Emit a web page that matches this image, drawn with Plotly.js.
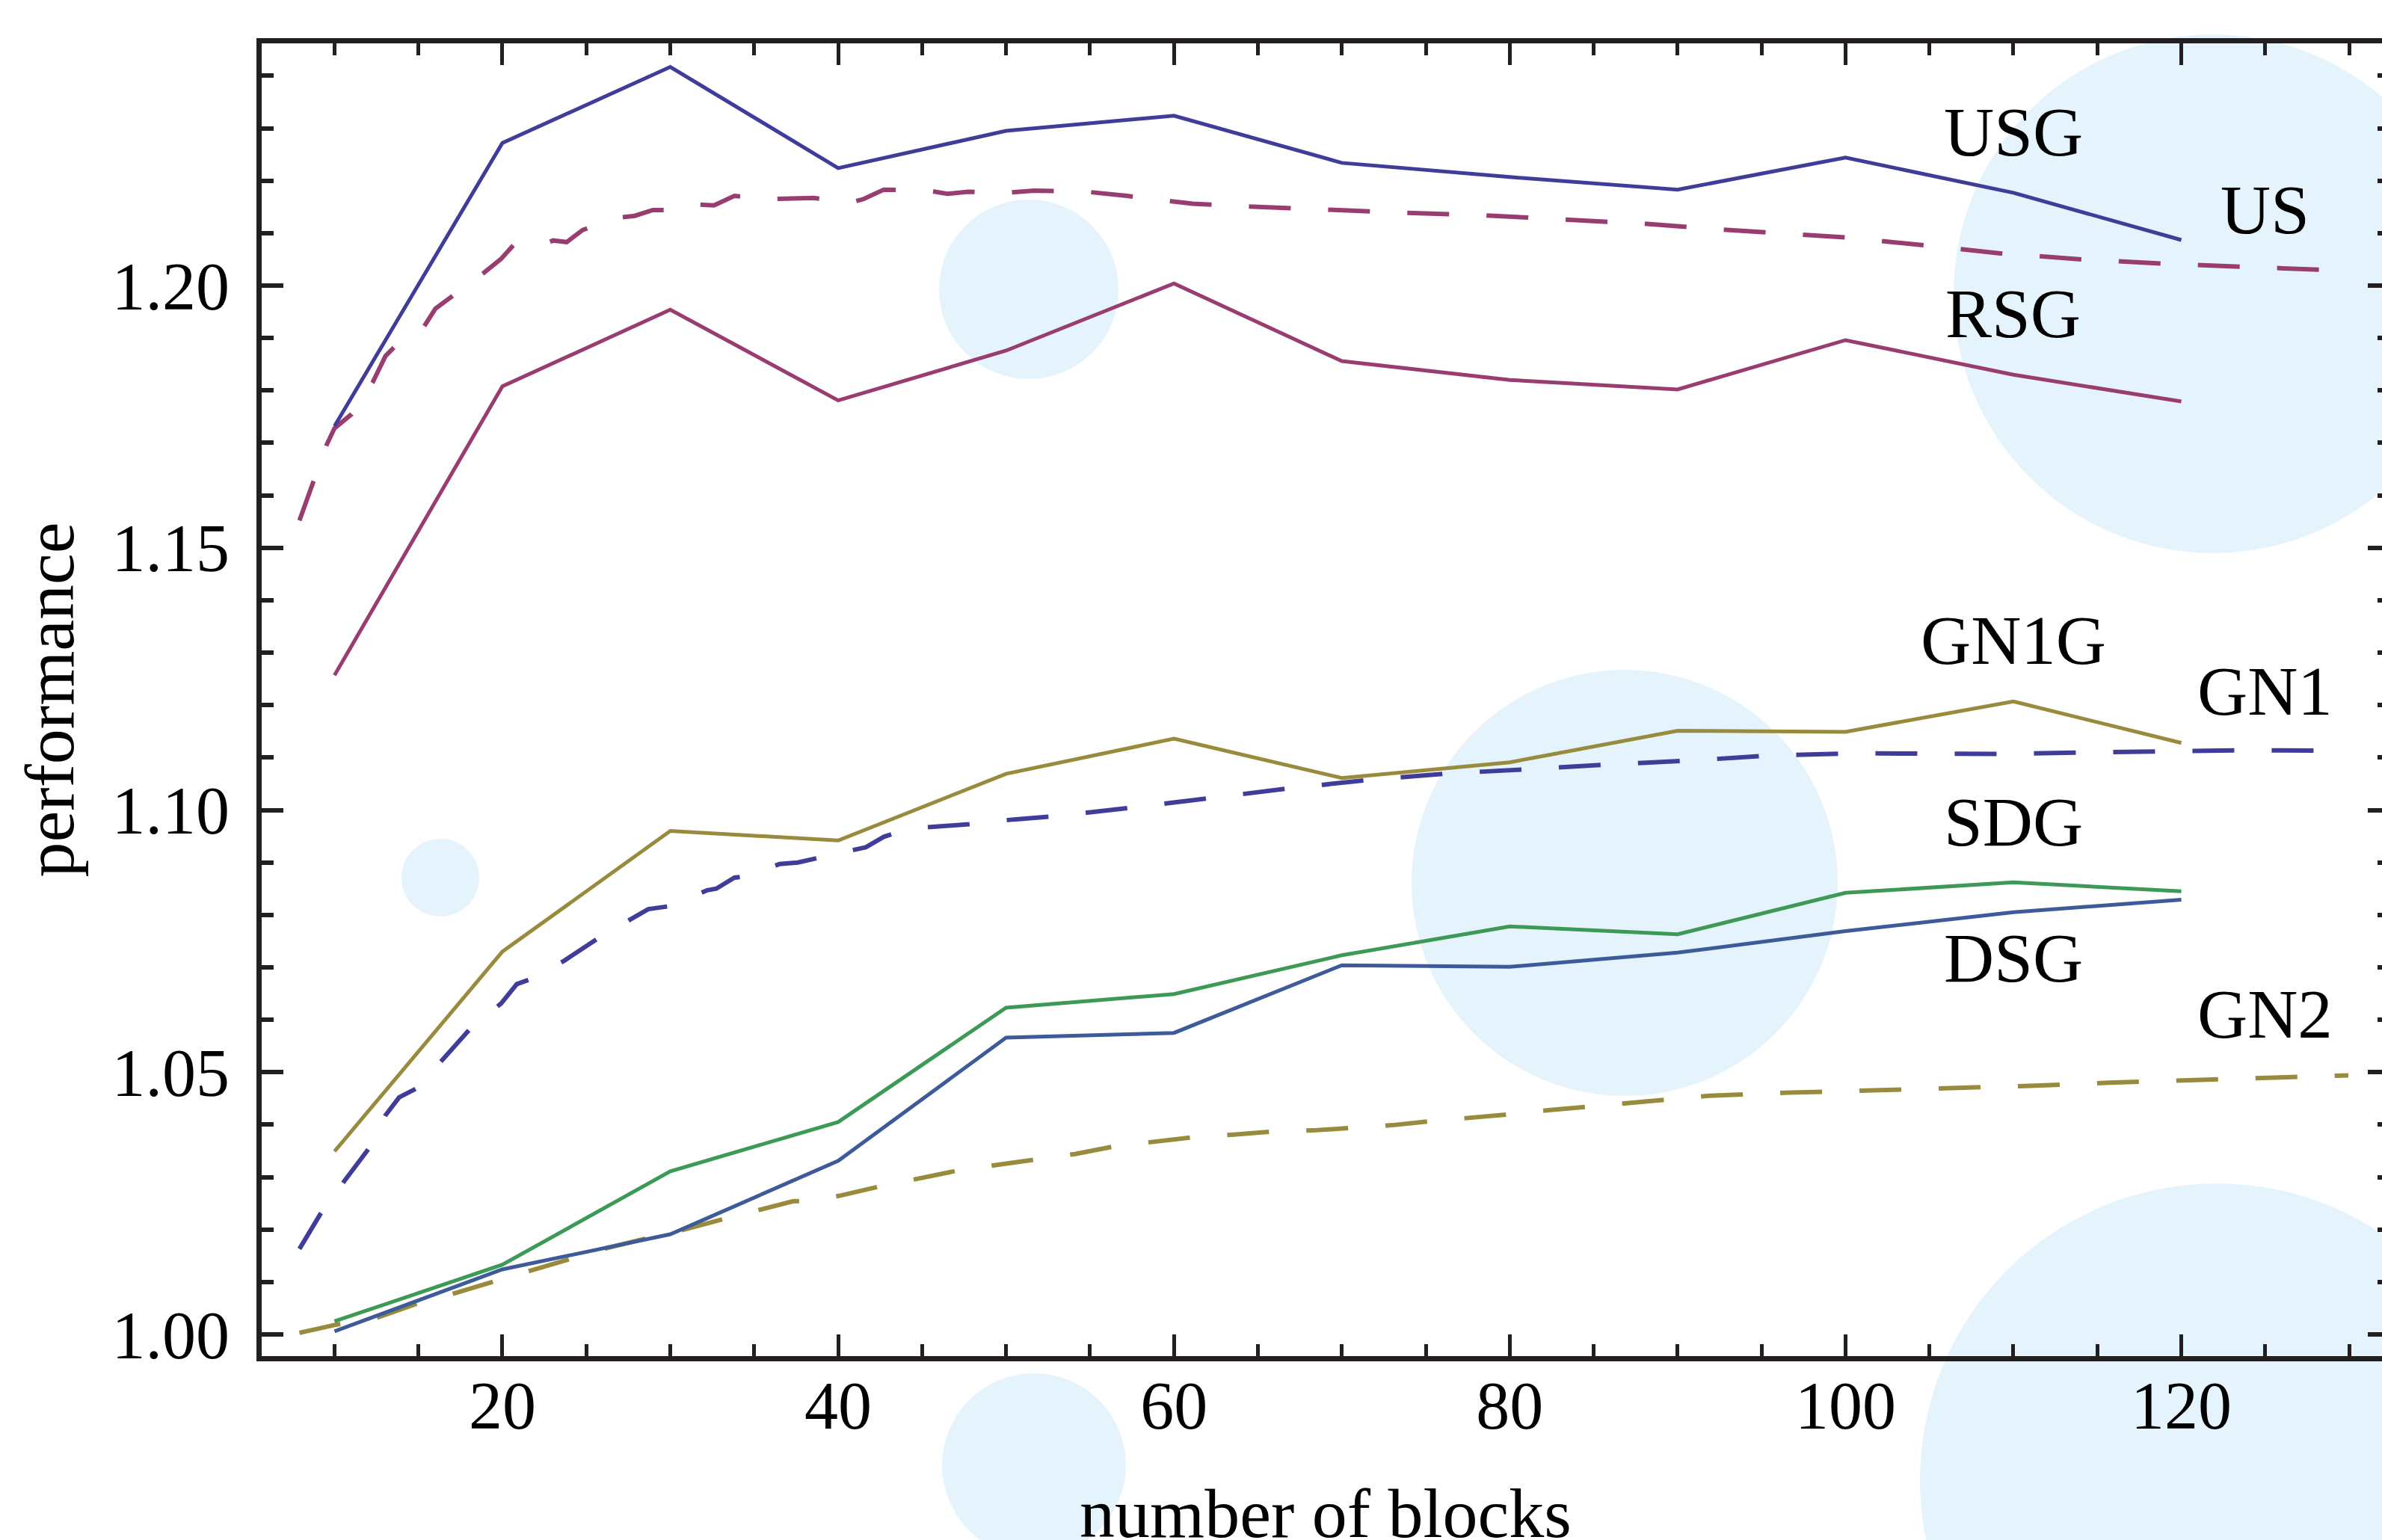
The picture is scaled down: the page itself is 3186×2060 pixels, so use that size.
<!DOCTYPE html>
<html>
<head>
<meta charset="utf-8">
<script src="https://cdn.plot.ly/plotly-3.0.1.min.js"></script>
<style>
html,body{margin:0;padding:0;overflow:hidden;background:#ffffff;}
#chart{width:3200px;height:2100px;}
</style>
</head>
<body>
<div id="chart"></div>
<script>
// ---------------- data ----------------
const blocks = [10, 20, 30, 40, 50, 60, 70, 80, 90, 100, 110, 120];

const USG = [1.1732, 1.2272, 1.2417, 1.2224, 1.2295, 1.2324, 1.2234, 1.2207, 1.2183, 1.2244, 1.2177, 1.2087];
const RSG = [1.1257, 1.1808, 1.1954, 1.1781, 1.1876, 1.2004, 1.1856, 1.1820, 1.1802, 1.1896, 1.1830, 1.1779];
const GN1G = [1.0349, 1.0730, 1.0960, 1.0942, 1.1069, 1.1136, 1.1061, 1.1091, 1.1151, 1.1149, 1.1207, 1.1128];
const SDG = [1.0025, 1.0133, 1.0311, 1.0405, 1.0623, 1.0649, 1.0723, 1.0778, 1.0763, 1.0842, 1.0862, 1.0845];
const DSG = [1.0006, 1.0124, 1.0191, 1.0331, 1.0566, 1.0575, 1.0704, 1.0701, 1.0728, 1.0769, 1.0805, 1.0829];

const US_x = [7.91, 9.54, 10.0, 11.02, 12.28, 13.04, 13.63, 15.33, 16.01, 17.03, 18.84, 19.92, 20.65, 22.48, 23.02, 23.83, 24.78, 26.8, 27.88, 28.96, 30.04, 31.52, 32.6, 33.82, 36.11, 38.54, 40.83, 41.51, 42.72, 45.42, 46.5, 47.76, 50.06, 51.68, 54.78, 57.21, 59.5, 61.12, 64.22, 68.94, 73.66, 78.52, 83.24, 88.0, 92.6, 99.95, 104.66, 109.37, 114.07, 118.78, 123.63, 128.34, 130.0];
const US_y = [1.1552, 1.1697, 1.1728, 1.1755, 1.1816, 1.1866, 1.1885, 1.1922, 1.1956, 1.1980, 1.2023, 1.2051, 1.2077, 1.2079, 1.2086, 1.2083, 1.2106, 1.2129, 1.2133, 1.2144, 1.2144, 1.2155, 1.2153, 1.2171, 1.2165, 1.2167, 1.2159, 1.2165, 1.2183, 1.2181, 1.2175, 1.2179, 1.2177, 1.2181, 1.2179, 1.2171, 1.2161, 1.2156, 1.2151, 1.2144, 1.2139, 1.2134, 1.2127, 1.2118, 1.2107, 1.2092, 1.2077, 1.2061, 1.2050, 1.2042, 1.2036, 1.2030, 1.2028];

const GN1_x = [7.91, 9.26, 10.53, 11.42, 12.1, 13.04, 13.85, 14.93, 16.41, 18.17, 19.92, 20.86, 21.81, 23.7, 25.86, 27.82, 28.69, 30.04, 32.2, 32.74, 33.82, 34.36, 36.52, 37.6, 38.94, 41.1, 41.64, 42.72, 43.53, 44.88, 47.8, 50.46, 52.89, 57.61, 62.33, 67.06, 71.78, 76.5, 81.22, 85.9, 90.66, 95.52, 100.23, 104.94, 109.65, 114.5, 119.21, 124.06, 128.77, 130.0];
const GN1_y = [1.0163, 1.0235, 1.0290, 1.0330, 1.0357, 1.0418, 1.0452, 1.0470, 1.0524, 1.0586, 1.0631, 1.0668, 1.0679, 1.0713, 1.0759, 1.0796, 1.0811, 1.0817, 1.0847, 1.0850, 1.0871, 1.0873, 1.0897, 1.0900, 1.0910, 1.0927, 1.0929, 1.0949, 1.0957, 1.0966, 1.0973, 1.0982, 1.0988, 1.1005, 1.1024, 1.1042, 1.1058, 1.1070, 1.1078, 1.1087, 1.1094, 1.1104, 1.1108, 1.1108, 1.1107, 1.1110, 1.1112, 1.1114, 1.1113, 1.1113];

const GN2_x = [7.91, 10.0, 12.63, 14.93, 17.09, 19.51, 21.67, 24.1, 26.26, 28.69, 30.85, 33.28, 35.43, 37.32, 37.86, 40.02, 42.45, 44.61, 47.04, 49.38, 51.81, 54.1, 56.53, 58.69, 61.12, 63.55, 65.98, 68.27, 70.7, 73.0, 75.42, 77.72, 80.14, 82.44, 84.86, 87.15, 89.64, 91.85, 96.7, 101.41, 106.12, 110.97, 115.68, 120.39, 125.1, 127.6, 129.95];
const GN2_y = [1.0003, 1.0018, 1.0033, 1.0059, 1.0078, 1.0101, 1.0122, 1.0146, 1.0165, 1.0184, 1.0200, 1.0221, 1.0239, 1.0254, 1.0254, 1.0264, 1.0282, 1.0297, 1.0312, 1.0323, 1.0334, 1.0344, 1.0359, 1.0368, 1.0376, 1.0381, 1.0387, 1.0389, 1.0394, 1.0399, 1.0407, 1.0413, 1.0420, 1.0428, 1.0435, 1.0443, 1.0449, 1.0455, 1.0461, 1.0465, 1.0468, 1.0474, 1.0480, 1.0485, 1.0491, 1.0493, 1.0494];

const labelText = ['USG', 'US', 'RSG', 'GN1G', 'GN1', 'SDG', 'DSG', 'GN2'];
const labelX = [110, 125, 110, 110, 125, 110, 110, 125];
const labelY = [1.2293, 1.2145, 1.1946, 1.1323, 1.1227, 1.0977, 1.0718, 1.0611];

const xTitle = 'number of blocks';
const yTitle = 'performance';

// ---------------- styling ----------------
const C_BLUE = '#3f3d99', C_MAG = '#993d71', C_OLIVE = '#998b3d', C_GREEN = '#3d9956', C_STEEL = '#3d5a99';
const AXC = '#231f20';
const FONT = 'Liberation Serif, Times New Roman, serif';
const DASH = '56px,50px';

function solid(name, y, color) {
  return {type: 'scatter', mode: 'lines', name: name, x: blocks, y: y,
          line: {color: color, width: 5}, hoverinfo: 'x+y+name'};
}
function dashed(name, x, y, color) {
  return {type: 'scatter', mode: 'lines', name: name, x: x, y: y,
          line: {color: color, width: 6, dash: DASH}, hoverinfo: 'x+y+name'};
}

const traces = [
  dashed('GN2', GN2_x, GN2_y, C_OLIVE),
  dashed('GN1', GN1_x, GN1_y, C_BLUE),
  dashed('US', US_x, US_y, C_MAG),
  solid('DSG', DSG, C_STEEL),
  solid('SDG', SDG, C_GREEN),
  solid('GN1G', GN1G, C_OLIVE),
  solid('RSG', RSG, C_MAG),
  solid('USG', USG, C_BLUE)
];

// plot-area geometry (pixels)
const W = 3200, H = 2100;
const M = {l: 350, r: 4, t: 58, b: 286};
const plotW = W - M.l - M.r, plotH = H - M.t - M.b;
const plotBottom = H - M.b;

// decorative pale circles (pixel centre / radius)
const decor = [
  {cx: 1376, cy: 387, r: 120},
  {cx: 2960, cy: 393, r: 347},
  {cx: 589, cy: 1174, r: 52},
  {cx: 2173, cy: 1181, r: 285},
  {cx: 1383, cy: 1960, r: 123},
  {cx: 2965, cy: 1980, r: 397}
];
const shapes = decor.map(d => ({
  type: 'circle', xref: 'paper', yref: 'paper', layer: 'below',
  x0: (d.cx - d.r - M.l) / plotW, x1: (d.cx + d.r - M.l) / plotW,
  y0: (plotBottom - (d.cy + d.r)) / plotH, y1: (plotBottom - (d.cy - d.r)) / plotH,
  fillcolor: '#e5f4fc', line: {width: 0}
}));

const annotations = labelText.map((t, i) => ({
  x: labelX[i], y: labelY[i], xref: 'x', yref: 'y', text: t, showarrow: false,
  xanchor: 'center', yanchor: 'middle',
  font: {family: FONT, size: 93, color: '#000000'}
}));

const tickFont = {family: FONT, size: 90, color: '#000000'};

const layout = {
  width: W, height: H,
  margin: M,
  paper_bgcolor: '#ffffff', plot_bgcolor: 'rgba(0,0,0,0)',
  showlegend: false,
  shapes: shapes,
  annotations: annotations,
  xaxis: {
    range: [5.661, 132.40], showgrid: false, zeroline: false,
    showline: true, linewidth: 7, linecolor: AXC, mirror: 'ticks',
    ticks: 'inside', ticklen: 29, tickwidth: 5, tickcolor: AXC,
    tick0: 0, dtick: 20,
    minor: {ticks: 'inside', dtick: 5, ticklen: 16, tickwidth: 5, tickcolor: AXC, showgrid: false},
    tickfont: tickFont, ticklabelstandoff: -18,
    title: {text: xTitle, font: {family: FONT, size: 94, color: '#000000'}, standoff: 64}
  },
  yaxis: {
    range: [0.995866, 1.24619], showgrid: false, zeroline: false,
    showline: true, linewidth: 7, linecolor: AXC, mirror: 'ticks',
    ticks: 'inside', ticklen: 29, tickwidth: 6, tickcolor: AXC,
    tick0: 1.0, dtick: 0.05, tickformat: '.2f',
    minor: {ticks: 'inside', dtick: 0.01, ticklen: 16, tickwidth: 6, tickcolor: AXC, showgrid: false},
    tickfont: tickFont, ticklabelstandoff: 18,
    title: {text: yTitle, font: {family: FONT, size: 94, color: '#000000'}, standoff: 22}
  }
};

Plotly.newPlot('chart', traces, layout, {displayModeBar: false, staticPlot: true});
</script>
</body>
</html>
